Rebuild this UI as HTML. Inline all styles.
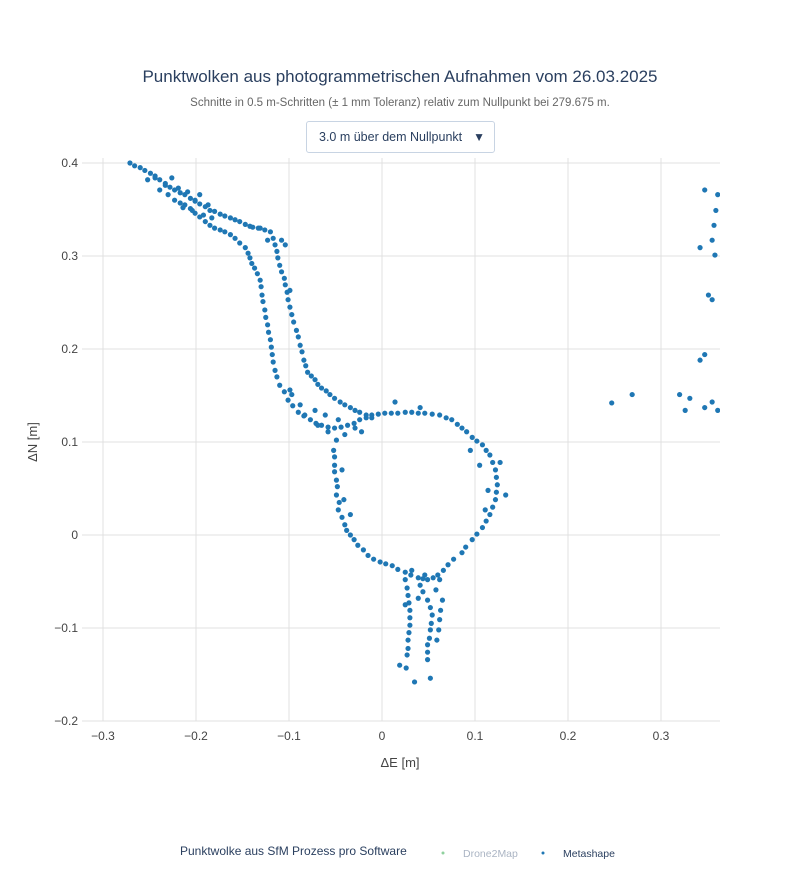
<!DOCTYPE html>
<html><head><meta charset="utf-8"><style>
body{margin:0;background:#fff;font-family:"Liberation Sans",sans-serif}
#wrap{position:relative;width:800px;height:880px}
svg text{font-family:"Liberation Sans",sans-serif}
#dd{position:absolute;left:306px;top:121px;width:189px;height:32px;border:1px solid #c8d4e3;border-radius:3px;box-sizing:border-box;font-size:12.5px;color:#2a3f5f;line-height:30px;padding-left:12px;background:#fff}
#dd span{position:absolute;right:9px;top:0;font-size:12px}
</style></head><body>
<div id="wrap">
<svg id="s" width="800" height="880">
<text x="400" y="82" text-anchor="middle" font-size="17" fill="#2a3f5f">Punktwolken aus photogrammetrischen Aufnahmen vom 26.03.2025</text>
<text x="400" y="106" text-anchor="middle" font-size="11.5" fill="#666">Schnitte in 0.5 m-Schritten (± 1 mm Toleranz) relativ zum Nullpunkt bei 279.675 m.</text>
<g id="grid"></g>
<g id="ticks"></g>
<clipPath id="cp"><rect x="82" y="158" width="638" height="563"/></clipPath>
<g id="pts" clip-path="url(#cp)"></g>
<text x="400" y="767" text-anchor="middle" font-size="13" fill="#444">ΔE [m]</text>
<text x="37" y="442" text-anchor="middle" font-size="13" fill="#444" transform="rotate(-90 37 442)">ΔN [m]</text>
<text x="180" y="855" font-size="12" fill="#2a3f5f">Punktwolke aus SfM Prozess pro Software</text>
<g><circle cx="443" cy="853" r="1.5" fill="#8fd19e"/><text x="463" y="857" font-size="10.5" fill="#aab4c3">Drone2Map</text></g>
<g><circle cx="543" cy="853" r="1.5" fill="#1f77b4"/><text x="563" y="857" font-size="10.5" fill="#2a3f5f">Metashape</text></g>
</svg>
<div id="dd">3.0 m über dem Nullpunkt<span>▼</span></div>
</div>
<script>
const xTicks=[-0.3,-0.2,-0.1,0,0.1,0.2,0.3];
const xTickLabels=["−0.3","−0.2","−0.1","0","0.1","0.2","0.3"];
const yTicks=[-0.2,-0.1,0,0.1,0.2,0.3,0.4];
const yTickLabels=["−0.2","−0.1","0","0.1","0.2","0.3","0.4"];
const metaE=[-0.271,-0.260,-0.249,-0.239,-0.228,-0.217,-0.206,-0.196,-0.185,-0.174,-0.163,-0.153,-0.142,-0.133,
-0.239,-0.223,-0.212,-0.201,-0.190,-0.180,-0.169,-0.158,-0.147,-0.142,-0.137,-0.131,-0.129,-0.126,-0.123,-0.120,-0.118,-0.115,-0.110,-0.101,-0.090,-0.077,-0.065,-0.051,-0.037,-0.024,-0.011,0.003,0.017,0.032,0.046,0.062,0.075,0.086,0.097,0.108,0.116,0.122,0.124,0.122,0.116,0.108,0.097,0.086,0.071,0.060,0.049,0.039,0.025,0.011,-0.002,-0.015,-0.026,-0.034,-0.040,-0.047,-0.049,-0.049,-0.051,-0.052,-0.049,
-0.131,-0.120,-0.115,-0.112,-0.108,-0.104,-0.101,-0.097,-0.092,-0.088,-0.084,-0.080,-0.072,-0.065,-0.056,-0.045,-0.034,-0.024,-0.011,
0.025,0.028,0.030,0.030,0.028,0.027,0.026,0.041,0.049,0.054,0.052,0.049,0.049,0.052,0.062,0.065,0.062,0.059,
0.247,0.269,0.320,0.331,0.342,0.347,0.355,0.351,0.358,0.342,0.361,0.359,0.357,0.355,0.347,0.355,0.361,0.347,0.326,
-0.233,-0.226,-0.219,-0.209,-0.201,-0.196,-0.187,-0.214,-0.204,-0.244,-0.252,-0.192,-0.183,
-0.097,-0.088,-0.083,-0.072,-0.069,-0.058,-0.047,-0.040,-0.029,-0.022,-0.099,-0.061,
-0.043,-0.041,-0.034,0.095,0.105,0.114,0.111,0.127,0.133,0.014,0.041,
0.032,0.046,0.039,0.025,0.035,0.019,
-0.123,-0.104,-0.099,-0.108,
-0.266,-0.255,-0.244,-0.233,-0.223,-0.212,-0.201,-0.190,-0.180,-0.169,-0.158,-0.147,-0.139,
-0.230,-0.217,-0.206,-0.196,-0.185,-0.174,-0.163,-0.153,-0.144,-0.140,-0.134,-0.130,-0.128,-0.125,-0.122,-0.119,-0.117,-0.113,-0.105,-0.096,-0.084,-0.071,-0.058,-0.044,-0.030,-0.017,-0.004,0.010,0.025,0.039,0.054,0.069,0.081,0.091,0.102,0.112,0.119,0.123,0.123,0.119,0.112,0.102,0.090,0.077,0.066,0.055,0.044,0.031,0.017,0.004,-0.009,-0.020,-0.030,-0.038,-0.043,-0.046,-0.048,-0.051,-0.051,
-0.126,-0.117,-0.113,-0.110,-0.105,-0.102,-0.099,-0.095,-0.090,-0.086,-0.082,-0.076,-0.069,-0.060,-0.051,-0.040,-0.029,-0.017,
0.027,0.029,0.030,0.029,0.028,0.044,0.052,0.053,0.051,0.049,0.058,0.063,0.061];
const metaN=[0.400,0.395,0.389,0.382,0.374,0.368,0.362,0.356,0.349,0.345,0.341,0.337,0.332,0.330,
0.371,0.360,0.355,0.346,0.337,0.330,0.326,0.319,0.309,0.298,0.287,0.274,0.258,0.242,0.226,0.210,0.194,0.177,0.161,0.145,0.132,0.124,0.118,0.115,0.118,0.124,0.129,0.131,0.131,0.132,0.131,0.129,0.124,0.115,0.105,0.097,0.086,0.070,0.054,0.038,0.022,0.008,-0.005,-0.019,-0.032,-0.043,-0.048,-0.046,-0.040,-0.033,-0.029,-0.022,-0.011,0,0.011,0.027,0.043,0.059,0.075,0.091,0.102,
0.330,0.326,0.312,0.298,0.283,0.269,0.253,0.237,0.220,0.204,0.188,0.175,0.167,0.158,0.151,0.143,0.137,0.132,0.126,
-0.048,-0.065,-0.081,-0.097,-0.113,-0.129,-0.143,-0.054,-0.070,-0.086,-0.102,-0.118,-0.134,-0.154,-0.048,-0.070,-0.091,-0.113,
0.142,0.151,0.151,0.147,0.188,0.194,0.253,0.258,0.301,0.309,0.366,0.349,0.333,0.317,0.137,0.143,0.134,0.371,0.134,
0.376,0.384,0.373,0.369,0.360,0.366,0.355,0.352,0.349,0.384,0.382,0.344,0.341,
0.151,0.140,0.129,0.134,0.118,0.111,0.124,0.108,0.115,0.111,0.156,0.129,
0.070,0.038,0.022,0.091,0.075,0.048,0.027,0.078,0.043,0.143,0.137,
-0.038,-0.043,-0.068,-0.075,-0.158,-0.140,
0.317,0.312,0.263,0.317,
0.397,0.392,0.386,0.378,0.371,0.366,0.359,0.353,0.348,0.343,0.339,0.334,0.331,
0.366,0.357,0.351,0.342,0.333,0.328,0.323,0.314,0.303,0.292,0.281,0.267,0.251,0.234,0.218,0.202,0.186,0.170,0.154,0.139,0.128,0.120,0.116,0.116,0.120,0.126,0.130,0.131,0.132,0.131,0.130,0.126,0.119,0.111,0.101,0.091,0.078,0.062,0.046,0.030,0.015,0.001,-0.013,-0.026,-0.038,-0.046,-0.047,-0.043,-0.037,-0.031,-0.026,-0.016,-0.005,0.005,0.019,0.035,0.052,0.068,0.084,
0.328,0.319,0.305,0.290,0.276,0.261,0.245,0.229,0.213,0.197,0.182,0.171,0.162,0.155,0.147,0.140,0.134,0.129,
-0.057,-0.073,-0.089,-0.105,-0.122,-0.061,-0.078,-0.095,-0.111,-0.126,-0.059,-0.081,-0.102];
const NS='http://www.w3.org/2000/svg';
function xs(v){return 382+v*930;}
function ys(v){return 535-v*930;}
const grid=document.getElementById('grid'),ticks=document.getElementById('ticks'),pts=document.getElementById('pts');
xTicks.forEach((t,i)=>{
 const l=document.createElementNS(NS,'line');
 
 
 l.setAttribute('x1',xs(t));l.setAttribute('x2',xs(t));l.setAttribute('y1',158);l.setAttribute('y2',721);
 l.setAttribute('stroke','#e1e1e1');grid.appendChild(l);
 const tx=document.createElementNS(NS,'text');
 
 
 tx.setAttribute('x',xs(t));tx.setAttribute('y',740);tx.setAttribute('text-anchor','middle');
 tx.setAttribute('font-size','12');tx.setAttribute('fill','#444');tx.textContent=xTickLabels[i];ticks.appendChild(tx);
});
yTicks.forEach((t,i)=>{
 const l=document.createElementNS(NS,'line');
 
 
 l.setAttribute('x1',82);l.setAttribute('x2',720);l.setAttribute('y1',ys(t));l.setAttribute('y2',ys(t));
 l.setAttribute('stroke','#e1e1e1');grid.appendChild(l);
 const tx=document.createElementNS(NS,'text');
 
 
 tx.setAttribute('x',78);tx.setAttribute('y',ys(t)+4);tx.setAttribute('text-anchor','end');
 tx.setAttribute('font-size','12');tx.setAttribute('fill','#444');tx.textContent=yTickLabels[i];ticks.appendChild(tx);
});
metaE.forEach((e,i)=>{
 const c=document.createElementNS(NS,'circle');
 
 
 c.setAttribute('cx',xs(e));c.setAttribute('cy',ys(metaN[i]));c.setAttribute('r',2.6);
 c.setAttribute('fill','#1f77b4');pts.appendChild(c);
});
</script>
</body></html>
